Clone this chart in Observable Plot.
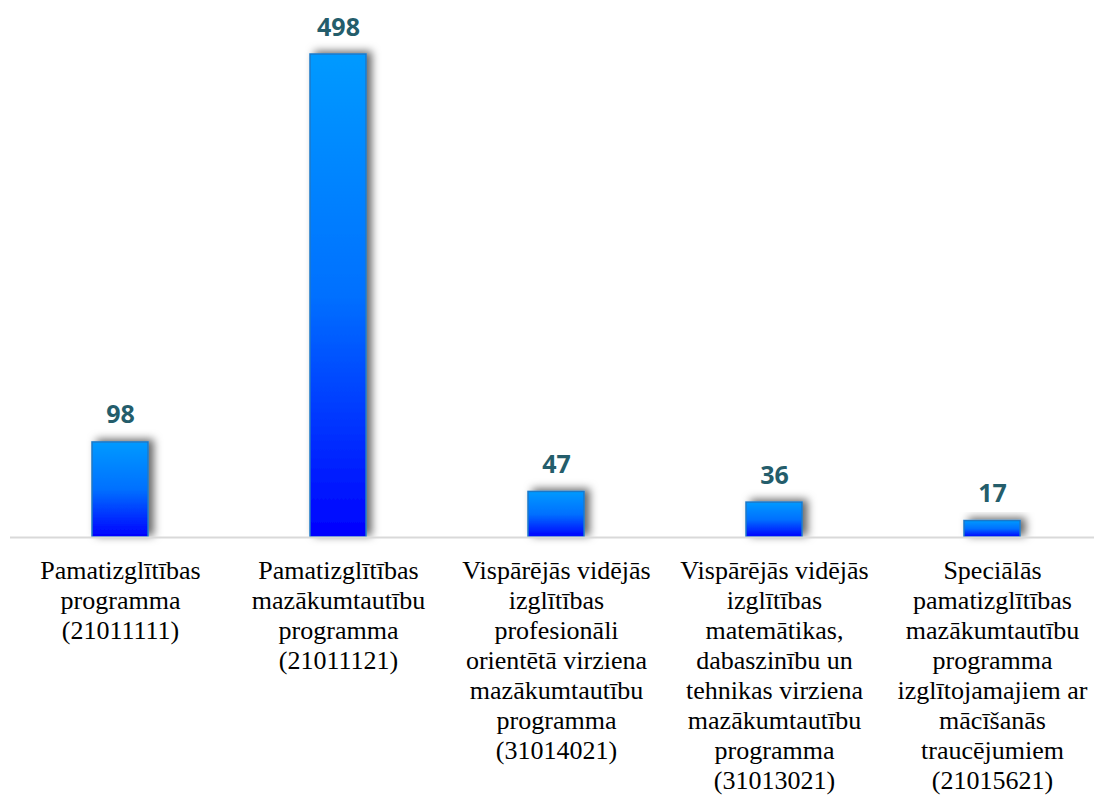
<!DOCTYPE html>
<html><head><meta charset="utf-8">
<script src="https://cdn.jsdelivr.net/npm/d3@7"></script>
<script src="https://cdn.jsdelivr.net/npm/@observablehq/plot@0.6"></script>
<style>body{margin:0;background:#fff}</style>
</head><body><div id="chart"></div>
<script>
const categories = ["21011111", "21011121", "31014021", "31013021", "21015621"];
const values = [98, 498, 47, 36, 17];
const labels = [
  "Pamatizglītības\nprogramma\n(21011111)",
  "Pamatizglītības\nmazākumtautību\nprogramma\n(21011121)",
  "Vispārējās vidējās\nizglītības\nprofesionāli\norientētā virziena\nmazākumtautību\nprogramma\n(31014021)",
  "Vispārējās vidējās\nizglītības\nmatemātikas,\ndabaszinību un\ntehnikas virziena\nmazākumtautību\nprogramma\n(31013021)",
  "Speciālās\npamatizglītības\nmazākumtautību\nprogramma\nizglītojamajiem ar\nmācīšanās\ntraucējumiem\n(21015621)"
];
const data = categories.map((c, i) => ({cat: c, value: values[i], label: labels[i]}));

const chart = Plot.plot({
  width: 1094, height: 795,
  marginLeft: 10, marginRight: 0, marginTop: 54, marginBottom: 258,
  x: {domain: categories, range: [10, 1102], paddingInner: 0.744, paddingOuter: 0.372, axis: null},
  y: {domain: [0, 498], range: [537, 54], axis: null},
  marks: [
    Plot.barY(data, {x: "cat", y: "value", fill: "url(#barGrad)", stroke: "#1A78C8", strokeWidth: 1.5}),
    Plot.ruleY([0], {stroke: "#d9d9d9", strokeWidth: 2}),
    Plot.text(data, {x: "cat", y: "value", text: d => String(d.value), lineAnchor: "bottom", dy: -19,
      fontFamily: "'Open Sans'", fontWeight: "bold", fontSize: 25, fill: "#245D6B"}),
    Plot.text(data, {x: "cat", y: 0, text: "label", lineAnchor: "top", dy: 20, lineHeight: 1.155,
      fontFamily: "'Liberation Serif', 'Times New Roman', serif", fontSize: 26, fill: "#000"})
  ]
});

const ns = "http://www.w3.org/2000/svg";
const defs = document.createElementNS(ns, "defs");
defs.innerHTML = `
  <linearGradient id="barGrad" x1="0" y1="0" x2="0" y2="1">
    <stop offset="0" stop-color="#009AFF"/>
    <stop offset="0.5" stop-color="#0070FF"/>
    <stop offset="1" stop-color="#0000FF"/>
  </linearGradient>
  <filter id="shadow" x="-50%" y="-50%" width="200%" height="200%">
    <feDropShadow dx="5" dy="-2" stdDeviation="4" flood-color="#000" flood-opacity="0.6"/>
  </filter>`;
chart.insertBefore(defs, chart.firstChild);
chart.querySelectorAll("g[aria-label='bar'] rect").forEach(r => r.setAttribute("filter", "url(#shadow)"));
document.getElementById("chart").appendChild(chart);
</script>
</body></html>
